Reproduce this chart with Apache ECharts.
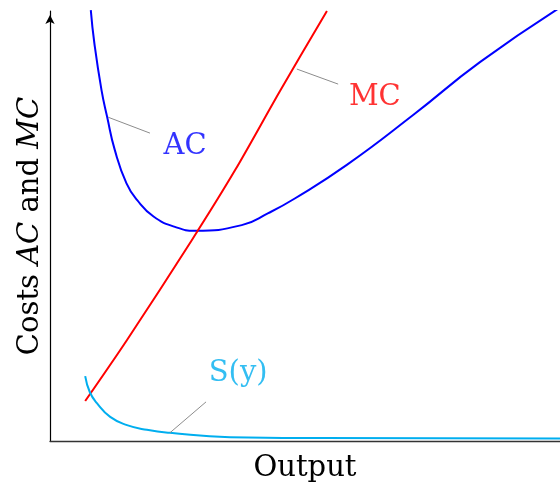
<!DOCTYPE html>
<html><head><meta charset="utf-8">
<script src="https://cdn.jsdelivr.net/npm/echarts@6/dist/echarts.min.js"></script>
<style>html,body{margin:0;padding:0;background:#fff}#c{width:560px;height:482px}</style>
</head><body><div id="c"></div>
<script>
// Average cost curve (AC)
const acX = [0.80, 0.87, 1.01, 1.12, 1.27, 1.50, 1.71, 2.03, 2.45, 2.84, 3.76, 4.28, 4.80, 5.82, 7.12, 8.43, 10.0];
const acY = [10.02, 9.25, 8.16, 7.54, 6.77, 5.99, 5.60, 5.22, 4.98, 4.89, 5.02, 5.30, 5.64, 6.42, 7.58, 8.81, 10.08];
// Marginal cost curve (MC)
const mcX = [0.69, 1.51, 2.78, 3.63, 4.51, 5.43];
const mcY = [0.93, 2.35, 4.67, 6.30, 8.14, 10.0];
// S(y) curve
const sX = [0.69, 0.78, 0.92, 1.18, 1.51, 1.90, 2.35, 3.53, 5.29, 10.0];
const sY = [1.51, 1.14, 0.88, 0.56, 0.37, 0.26, 0.19, 0.09, 0.07, 0.06];
// Curve labels and leader lines
const labelNames = ['AC', 'MC', 'S(y)'];
const labelX = [2.65, 6.37, 3.69];
const labelY = [6.84, 7.98, 1.58];
const leaderFrom = [[1.14, 7.53], [4.84, 8.65], [2.35, 0.19]];
const leaderTo = [[1.96, 7.16], [5.65, 8.30], [3.06, 0.91]];

const colors = ['#0000ff', '#ff0000', '#00aeef'];
const FONT = 'DejaVu Serif';
const zip = (xs, ys) => xs.map((x, i) => [x, ys[i]]);

function curve(name, xs, ys, color, idx, smooth) {
  return {
    name, type: 'line', data: zip(xs, ys), showSymbol: false, smooth,
    lineStyle: { color, width: 2 }, clip: true, z: 3, silent: true,
    markLine: {
      silent: true, symbol: ['none', 'none'], label: { show: false },
      lineStyle: { color: '#8c8c8c', width: 1, type: 'solid' },
      data: [[{ coord: leaderFrom[idx] }, { coord: leaderTo[idx] }]]
    }
  };
}

const chart = echarts.init(document.getElementById('c'), null, { renderer: 'canvas' });
chart.setOption({
  animation: false,
  grid: { left: 50, right: 0, top: 11, bottom: 41, containLabel: false, outerBoundsMode: 'none' },
  xAxis: {
    type: 'value', min: 0, max: 10,
    name: 'Output', nameLocation: 'middle', nameGap: 13,
    nameTextStyle: { fontFamily: FONT, fontSize: 29, color: '#000', verticalAlign: 'top' },
    axisLine: { show: true, onZero: false, lineStyle: { color: '#333', width: 1.3 } },
    axisTick: { show: false }, axisLabel: { show: false }, splitLine: { show: false }
  },
  yAxis: {
    type: 'value', min: 0, max: 10,
    name: 'Costs {i|AC} and {i|MC}', nameLocation: 'middle', nameGap: 5, nameRotate: 90,
    nameTextStyle: {
      fontFamily: FONT, fontSize: 29, color: '#000', verticalAlign: 'bottom',
      rich: { i: { fontFamily: FONT, fontSize: 29, fontStyle: 'italic', color: '#000' } }
    },
    axisLine: { show: true, onZero: false, symbol: ['none', 'arrow'], symbolSize: [7, 9], symbolOffset: [0, -4],
      lineStyle: { color: '#000', width: 1.2 } },
    axisTick: { show: false }, axisLabel: { show: false }, splitLine: { show: false }
  },
  series: [
    curve('AC', acX, acY, colors[0], 0, 0.5),
    curve('MC', mcX, mcY, colors[1], 1, 0.3),
    curve('S(y)', sX, sY, colors[2], 2, 0.5),
    {
      type: 'scatter', symbolSize: 0, silent: true, z: 5,
      data: labelNames.map((n, i) => ({
        value: [labelX[i], labelY[i]], name: n,
        label: { color: colors[i] }
      })),
      label: { show: true, position: 'inside', formatter: p => p.name, fontFamily: FONT, fontSize: 29 }
    }
  ]
});
</script></body></html>
